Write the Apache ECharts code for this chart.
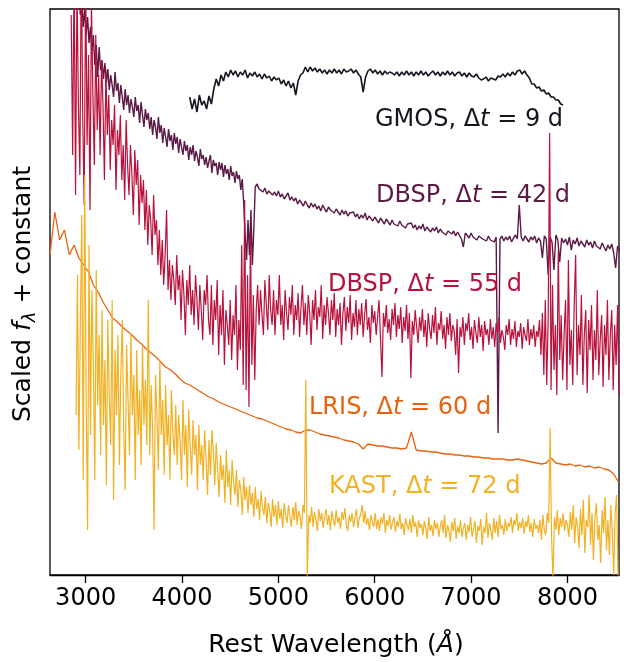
<!DOCTYPE html>
<html>
<head>
<meta charset="utf-8">
<script src="https://cdn.jsdelivr.net/npm/echarts@6/dist/echarts.min.js"></script>
<style>html,body{margin:0;padding:0;background:#fff}#c{width:624px;height:662px}</style>
</head>
<body>
<div id="c"></div>
<script>
// x ticks
const xTicks = [3000, 4000, 5000, 6000, 7000, 8000];
// Wavelength grids (start, step in Angstrom)
const gmosStart = 4080, gmosStep = 25;
const dbsp42BlueStart = 2900, dbsp42BlueStep = 15;
const dbsp42RedStart = 4780, dbsp42RedStep = 20;
const dbsp55Start = 2850, dbsp55Step = 15;
const lrisStart = 2630, lrisStep = 50;
const kastStart = 2900, kastStep = 15;

// Scaled flux + constant (arbitrary units)
const gmosFlux = [478,466,476,463,480,470,474,466,479,471,
486,496,489,500,494,503,498,505,500,504,
498,503,500,505,497,502,499,503,498,501,
496,501,497,499,494,498,495,497,491,495,
489,494,487,492,480,494,500,502,508,503,
508,504,507,503,506,502,505,501,505,502,
506,502,505,501,506,503,504,506,502,505,
501,498,483,498,504,506,502,505,501,504,
500,504,501,503,502,500,503,499,503,500,
504,500,503,499,503,500,504,500,503,499,
502,504,500,503,499,503,500,504,500,503,
499,502,503,499,502,498,502,499,498,501,
497,495,496,498,494,497,496,495,499,498,
501,498,502,499,503,500,504,505,501,504,
500,497,491,491,487,488,484,485,481,482,
478,478,475,475,471,470];

const dbsp42BlueFlux = [590,568,582,560,575,548,566,540,558,532,
548,522,540,510,530,498,528,505,515,496,
512,492,506,485,500,490,478,503,484,492,
472,490,478,465,486,470,480,462,476,468,
458,478,464,470,452,473,460,448,466,455,
462,446,458,440,455,448,436,458,442,450,
432,447,438,428,446,434,440,425,442,431,
438,422,436,428,420,434,424,430,415,428,
420,430,414,424,418,409,426,416,420,410,
418,407,414,420,402,415,409,412,400,413,
405,412,398,410,401,406,395,409,399,403,
392,404,396,400,385,396,372,340,315,355,
320,365,310,345,388];

const dbsp42RedFlux = [391,386,388,383,387,381,384,386,380,383,
379,384,378,381,376,379,382,375,378,374,
377,371,375,373,369,374,370,367,372,368,
371,366,369,364,370,366,363,368,365,367,
362,366,363,360,365,361,364,359,362,360,
363,358,361,356,360,357,362,355,359,357,
354,358,355,352,357,354,351,356,353,350,
355,351,353,349,354,350,352,347,351,349,
352,347,350,345,349,346,351,344,348,346,
343,347,344,348,342,346,343,345,340,344,
346,341,344,339,343,341,336,328,342,340,
337,342,338,340,335,339,341,336,338,334,
339,335,337,333,338,142,336,339,334,338,
335,339,333,337,340,336,370,338,334,339,
336,333,338,335,339,332,337,334,317,339,
336,300,338,333,305,340,335,313,337,332,
336,330,338,325,335,331,337,329,334,332,
328,335,330,333,327,334,329,331,326,332,
328,324,330,326,331,322,307,329,324];

const dbsp55Flux = [560,420,610,380,590,470,400,620,455,370,
600,430,520,365,575,480,410,540,445,500,
420,515,470,395,505,440,480,405,455,430,
470,385,445,420,460,395,430,375,455,410,
380,430,400,360,425,390,415,350,400,372,
395,345,385,330,370,355,320,380,340,355,
310,345,300,335,290,320,365,285,315,275,
310,295,270,320,285,300,255,305,280,240,
295,270,310,260,285,250,300,275,245,290,
265,235,285,270,300,255,240,290,230,275,
255,295,220,270,240,285,210,265,250,230,
275,215,260,240,290,205,255,225,330,190,
375,185,300,168,340,210,280,195,265,290,
250,285,260,240,295,270,245,300,265,250,
285,240,275,260,300,250,270,235,285,262,
245,278,260,290,240,270,255,282,238,268,
290,250,272,240,280,262,230,275,255,285,
245,268,258,290,236,270,250,278,262,240,
275,255,282,238,266,250,272,230,262,278,
244,268,252,280,235,262,248,275,240,266,
250,272,238,260,276,245,258,232,270,252,
264,240,258,275,236,198,262,248,270,242,
256,235,266,250,272,238,260,246,268,232,
258,244,270,236,262,197,254,240,265,248,
232,258,244,266,238,255,228,262,246,236,
260,242,268,230,252,245,264,236,250,226,
258,240,262,234,250,244,220,256,202,248,
238,258,230,252,244,262,235,248,226,255,
242,232,258,238,250,224,254,240,246,230,
256,236,248,228,252,242,258,232,245,238,
225,250,240,256,230,246,236,254,228,244,
238,252,226,248,240,234,256,230,246,236,
250,228,244,238,255,220,262,200,275,190,
255,442,185,290,205,250,180,325,215,260,
195,240,275,185,315,210,245,190,270,320,
200,250,220,280,190,240,265,182,255,225,
270,195,245,215,285,200,235,260,188,250,
220,275,195,240,265,185,250,210,270,180];

const lrisFlux = [320,363,335,345,320,330,317,310,303,290,
283,273,265,257,253,248,244,240,235,231,
226,222,218,213,208,205,201,196,192,190,
187,184,181,178,176,173,171,169,167,165,
163,161,159,157,156,154,152,150,148,146,
145,143,142,145,145,143,141,140,139,138,
137,135,134,133,131,126,131,130,129,129,
128,127,127,126,127,143,125,124,124,123,
123,122,121,121,120,120,119,119,118,118,
117,117,116,116,116,115,115,116,115,114,
113,112,111,112,117,112,111,110,111,109,
110,108,109,107,108,106,105,101,93];

const kastFlux = [160,300,125,250,360,95,400,180,45,330,
140,285,210,95,305,170,240,120,265,150,
215,90,255,180,130,275,75,225,160,240,
110,200,255,145,85,230,175,120,242,160,
200,95,225,140,185,110,230,150,195,130,
275,120,190,145,45,200,160,105,215,140,
175,100,190,130,160,95,185,140,120,170,
110,160,135,95,175,120,150,88,165,130,
100,155,120,140,85,150,110,130,95,145,
115,80,135,100,145,125,90,132,105,78,
120,95,110,72,125,88,105,70,115,92,
80,105,68,95,85,60,98,75,88,62,
90,70,82,58,88,66,76,55,84,68,
60,78,52,72,65,48,76,58,70,50,
74,56,66,47,72,60,52,70,58,48,
68,55,73,50,64,58,46,70,62,195,
-5,60,52,68,48,63,56,44,66,54,
62,47,58,66,50,60,45,64,55,49,
65,52,58,46,63,55,67,50,44,60,
53,62,48,58,66,47,56,61,70,52,
64,50,57,45,60,53,48,62,46,56,
44,58,51,62,42,55,49,60,45,53,
58,43,54,48,61,46,52,40,57,50,
45,56,42,60,48,53,38,55,47,51,
40,54,47,36,58,44,50,39,55,46,
52,38,48,55,42,60,37,50,45,33,
53,44,57,36,49,42,55,38,47,52,
35,50,43,58,38,46,54,32,49,44,
56,30,48,42,62,37,52,45,35,57,
42,54,38,60,46,50,40,56,44,52,
48,58,42,55,50,62,44,53,47,57,
41,54,48,60,43,52,38,56,46,50,
42,55,35,60,45,40,62,52,147,38,
-5,58,45,65,40,57,48,62,44,55,
50,38,63,45,70,32,58,48,27,66,
40,75,22,55,48,80,30,62,15,58,
72,35,50,12,65,42,78,25,55,20,
70,45,0,62,80,-3];

const labels = [
  {name: 'GMOS', dt: '9', color: '#16141f', x: 375, y: 120},
  {name: 'DBSP', dt: '42', color: '#5b1a45', x: 376, y: 196},
  {name: 'DBSP', dt: '55', color: '#b8113c', x: 328, y: 285},
  {name: 'LRIS', dt: '60', color: '#e8620f', x: 309, y: 408},
  {name: 'KAST', dt: '72', color: '#f2b122', x: 329, y: 487}
];

function pairs(start, step, arr) { return arr.map((v, i) => [start + i * step, v]); }

const FONT = 'DejaVu Sans';
const FS = 24;
const FSL = 25;

const seriesDefs = [
  [pairs(gmosStart, gmosStep, gmosFlux), labels[0].color, 1.6],
  [pairs(dbsp42BlueStart, dbsp42BlueStep, dbsp42BlueFlux).concat(pairs(dbsp42RedStart, dbsp42RedStep, dbsp42RedFlux)), labels[1].color, 1.4],
  [pairs(dbsp55Start, dbsp55Step, dbsp55Flux), labels[2].color, 1.2],
  [pairs(lrisStart, lrisStep, lrisFlux), labels[3].color, 1.3],
  [pairs(kastStart, kastStep, kastFlux), labels[4].color, 1.2]
];

const chart = echarts.init(document.getElementById('c'), null, {renderer: 'canvas'});

const graphics = labels.map(l => ({
  type: 'text', x: l.x, y: l.y, z: 100,
  style: {
    text: '{a|' + l.name + ', Δ}{i|t}{a| = ' + l.dt + ' d}',
    align: 'left', verticalAlign: 'middle',
    rich: {
      a: {fontFamily: FONT, fontSize: FS, fill: l.color},
      i: {fontFamily: FONT, fontSize: FS, fontStyle: 'italic', fill: l.color}
    }
  }
}));
graphics.push({
  type: 'text', x: 336, y: 645,
  style: {
    text: '{a|Rest Wavelength (}{i|Å}{a|)}', align: 'center', verticalAlign: 'middle',
    rich: {
      a: {fontFamily: FONT, fontSize: FSL, fill: '#000'},
      i: {fontFamily: FONT, fontSize: FSL, fontStyle: 'italic', fill: '#000'}
    }
  }
});
graphics.push({
  type: 'text', x: 23, y: 294, rotation: Math.PI / 2,
  style: {
    text: '{a|Scaled }{i|f}{s|λ}{a| + constant}', align: 'center', verticalAlign: 'middle',
    rich: {
      a: {fontFamily: FONT, fontSize: FSL, fill: '#000', lineHeight: 32},
      i: {fontFamily: FONT, fontSize: FSL, fontStyle: 'italic', fill: '#000', lineHeight: 32},
      s: {fontFamily: FONT, fontSize: 18, fontStyle: 'italic', fill: '#000', lineHeight: 20, verticalAlign: 'bottom'}
    }
  }
});

chart.setOption({
  animation: false,
  backgroundColor: '#fff',
  grid: {left: 50, right: 5, top: 9, bottom: 87, show: true, borderColor: '#000', borderWidth: 1.3, backgroundColor: 'transparent'},
  xAxis: {
    type: 'value', min: 2630, max: 8535,
    axisLine: {show: true, lineStyle: {color: '#000', width: 1.3}},
    axisTick: {show: true, length: 8, lineStyle: {color: '#000', width: 1.3}, customValues: xTicks},
    axisLabel: {show: true, color: '#000', fontFamily: FONT, fontSize: FS, margin: 12, customValues: xTicks,
      formatter: v => String(v)},
    splitLine: {show: false}
  },
  yAxis: {
    type: 'value', min: 0, max: 566,
    axisLine: {show: false}, axisTick: {show: false}, axisLabel: {show: false}, splitLine: {show: false}
  },
  series: seriesDefs.map(d => ({
    type: 'line', data: d[0], showSymbol: false, symbol: 'none',
    lineStyle: {color: d[1], width: d[2]}, itemStyle: {color: d[1]}, clip: true, silent: true
  })),
  graphic: graphics
});
</script>
</body>
</html>
